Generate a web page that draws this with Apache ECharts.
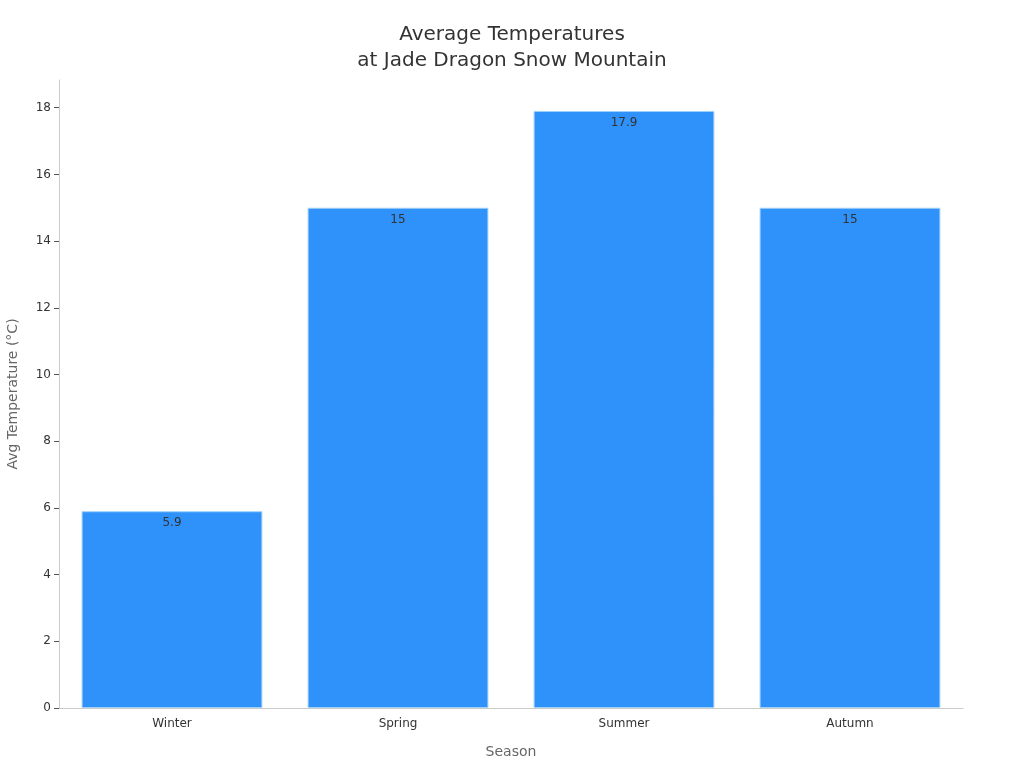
<!DOCTYPE html>
<html><head><meta charset="utf-8">
<script src="https://cdn.jsdelivr.net/npm/echarts@6/dist/echarts.min.js"></script>
<style>html,body{margin:0;padding:0;background:#fff}#c{width:1024px;height:768px}</style>
</head><body><div id="c"></div>
<script>
const categories = ["Winter", "Spring", "Summer", "Autumn"];
const temperatures = [5.9, 15, 17.9, 15];
const yTicks = [0, 2, 4, 6, 8, 10, 12, 14, 16, 18];

const chart = echarts.init(document.getElementById('c'));
const font = 'DejaVu Sans';
chart.setOption({
  animation: false,
  title: {
    text: 'Average Temperatures\nat Jade Dragon Snow Mountain',
    left: 'center', top: 17,
    textStyle: { fontFamily: font, fontSize: 20, fontWeight: 'normal', color: '#333', lineHeight: 26 }
  },
  grid: { left: 59, right: 61, top: 80, bottom: 60, containLabel: false, outerBoundsMode: 'none' },
  xAxis: {
    type: 'category', data: categories,
    name: 'Season', nameLocation: 'middle', nameGap: 37,
    nameTextStyle: { fontFamily: font, fontSize: 14, color: '#666' },
    axisLine: { lineStyle: { color: '#ccc' } },
    axisTick: { alignWithLabel: true, length: 5, lineStyle: { color: '#999' } },
    axisLabel: { fontFamily: font, fontSize: 12, color: '#333', margin: 10 }
  },
  yAxis: {
    type: 'value', min: 0, max: 18.83, interval: 2,
    name: 'Avg Temperature (°C)', nameLocation: 'middle', nameGap: 39,
    nameTextStyle: { fontFamily: font, fontSize: 14, color: '#666' },
    axisLine: { show: true, lineStyle: { color: '#ccc' } },
    axisTick: { show: true, length: 5, lineStyle: { color: '#555' }, customValues: yTicks },
    axisLabel: { fontFamily: font, fontSize: 12, color: '#333', margin: 8, customValues: yTicks },
    splitLine: { show: false }
  },
  series: [{
    type: 'bar', data: temperatures, barCategoryGap: '20%',
    itemStyle: { color: '#2f91fa', borderColor: '#9fd0f8', borderWidth: 1 },
    label: { show: true, position: 'insideTop', distance: 6, fontFamily: font, fontSize: 12, color: '#333' }
  }]
});
</script></body></html>
